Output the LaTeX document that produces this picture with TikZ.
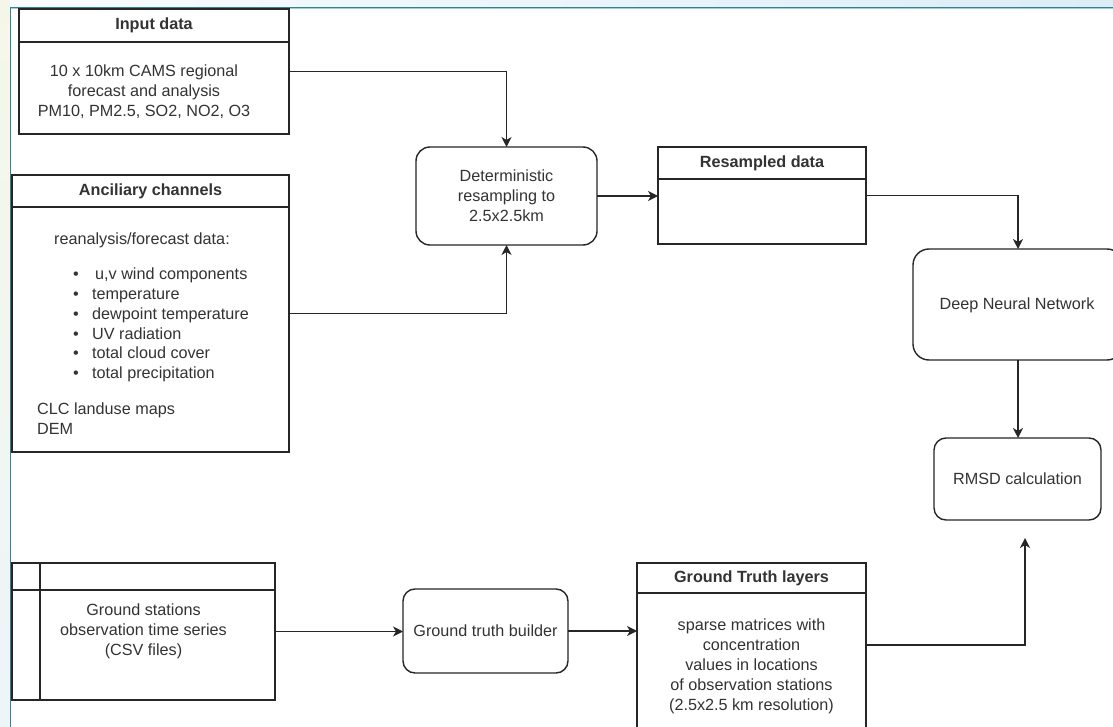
\documentclass[tikz,border=0pt]{standalone}
\usepackage{fontspec}
\setmainfont{Liberation Sans}
\usetikzlibrary{arrows.meta,calc}
\definecolor{lncol}{HTML}{262626}
\definecolor{txcol}{HTML}{333333}
\definecolor{tealline}{RGB}{55,128,145}
\definecolor{tealsoft}{RGB}{160,205,218}
\definecolor{topA}{HTML}{F9FCFE}
\definecolor{topB}{HTML}{DCEDF6}
\definecolor{leftA}{HTML}{F4F7E8}
\definecolor{leftB}{HTML}{EEF5F8}
\begin{document}
\begin{tikzpicture}[x=1pt,y=-1pt,
  every node/.style={font=\fontsize{16.2}{20}\selectfont, text=txcol},
  box/.style={draw=lncol, line width=1.4pt, rectangle, inner sep=0pt, outer sep=0pt, fill=white},
  hdr/.style={box, font=\fontsize{16.2}{20}\selectfont\bfseries},
  rbox/.style={box, rounded corners=#1, align=center},
  arr/.style={draw=lncol, line width=1.4pt, -{Stealth[length=10pt,width=10pt,inset=3pt]}},
  wire/.style={draw=lncol, line width=1.4pt},
  lt/.style={anchor=west, inner sep=0pt, text height=11.5pt, text depth=0pt},
  ct/.style={align=center, inner sep=0pt}]
\useasboundingbox (0,0) rectangle (1113,727);
% background / screenshot frame
\fill[white] (0,0) rectangle (1113,727);
\shade[left color=topA, right color=topB] (10,0) rectangle (1113,7);
\shade[top color=leftA, bottom color=leftB] (0,0) rectangle (9.5,727);
\draw[tealsoft, line width=1pt] (11,9) -- (1113,9);
\draw[tealline, line width=1.6pt] (10,7.5) -- (1113,7.5);
\draw[tealline, line width=1.6pt] (10.3,7.5) -- (10.3,727);

% Input data
\node[box, minimum width=270pt, minimum height=125pt] (inp) at (154,71.5) {};
\node[hdr, minimum width=270pt, minimum height=33pt] (inph) at (154,25.5) {Input data};
\node[ct] (inptxt) at (144,92) {10 x 10km CAMS regional\\forecast and analysis\\PM10, PM2.5, SO2, NO2, O3};

% Ancillary channels
\node[box, minimum width=277pt, minimum height=277pt] (anc) at (150.5,313.5) {};
\node[hdr, minimum width=277pt, minimum height=32pt] (anch) at (150.5,191) {Anciliary channels};
\node[lt] (anc0) at (54,239) {reanalysis/forecast data:};
\node[lt] (b1) at (73,274) {\textbullet};
\node[lt] (b2) at (73,294) {\textbullet};
\node[lt] (b3) at (73,314) {\textbullet};
\node[lt] (b4) at (73,334) {\textbullet};
\node[lt] (b5) at (73,353) {\textbullet};
\node[lt] (b6) at (73,373) {\textbullet};
\node[lt] (t1) at (95,274) {u,v wind components};
\node[lt] (t2) at (92,294) {temperature};
\node[lt] (t3) at (92,314) {dewpoint temperature};
\node[lt] (t4) at (92,334) {UV radiation};
\node[lt] (t5) at (92,353) {total cloud cover};
\node[lt] (t6) at (92,373) {total precipitation};
\node[lt] (clc) at (37,409) {CLC landuse maps};
\node[lt] (dem) at (37,429) {DEM};

% Ground stations
\node[box, minimum width=263pt, minimum height=137pt] (gs) at (143.5,631.5) {};
\node[box, minimum width=263pt, minimum height=27pt] (gsh) at (143.5,576.5) {};
\draw[wire] ([xshift=28pt]gs.north west) -- ([xshift=28pt]gs.south west);
\node[ct] (gstxt) at (143.5,631) {Ground stations\\observation time series\\(CSV files)};

% Deterministic resampling
\node[rbox=14pt, minimum width=181pt, minimum height=98pt] (det) at (506.5,196)
  {Deterministic\\resampling to\\2.5x2.5km};

% Resampled data
\node[box, minimum width=208pt, minimum height=97pt] (res) at (762,195.5) {};
\node[hdr, minimum width=208pt, minimum height=32pt] (resh) at (762,163) {Resampled data};

% Deep Neural Network
\node[rbox=16pt, minimum width=210pt, minimum height=111pt] (dnn) at (1018,304.5) {};
\node[ct] (dnntxt) at (1017,305) {Deep Neural Network};

% RMSD
\node[rbox=12pt, minimum width=167pt, minimum height=82pt] (rmsd) at (1017.5,479) {RMSD calculation};

% Ground truth builder
\node[rbox=12pt, minimum width=165pt, minimum height=84pt] (gtb) at (485.5,631) {Ground truth builder};

% Ground Truth layers (runs past the lower edge)
\node[box, minimum width=229pt, minimum height=176pt] (gtl) at (751.5,651) {};
\node[hdr, minimum width=229pt, minimum height=30pt] (gtlh) at (751.5,578) {Ground Truth layers};
\node[ct] (gtltxt) at (751.5,666) {sparse matrices with\\concentration\\values in locations\\of observation stations\\(2.5x2.5 km resolution)};

\coordinate (gtup) at (1025,538);

% connectors
\draw[arr] (inp.east) -| (det.north);
\draw[arr] (anc.east) -| (det.south);
\draw[arr] (det.east) -- (det.east -| res.west);
\draw[arr] (res.east) -| (dnn.north);
\draw[arr] (dnn.south) -- (dnn.south |- rmsd.north);
\draw[arr] (gs.east) -- (gs.east -| gtb.west);
\draw[arr] (gtb.east) -- (gtb.east -| gtl.west);
\draw[arr] ([yshift=6pt]gtl.east) -| (gtup);
\end{tikzpicture}
\end{document}
